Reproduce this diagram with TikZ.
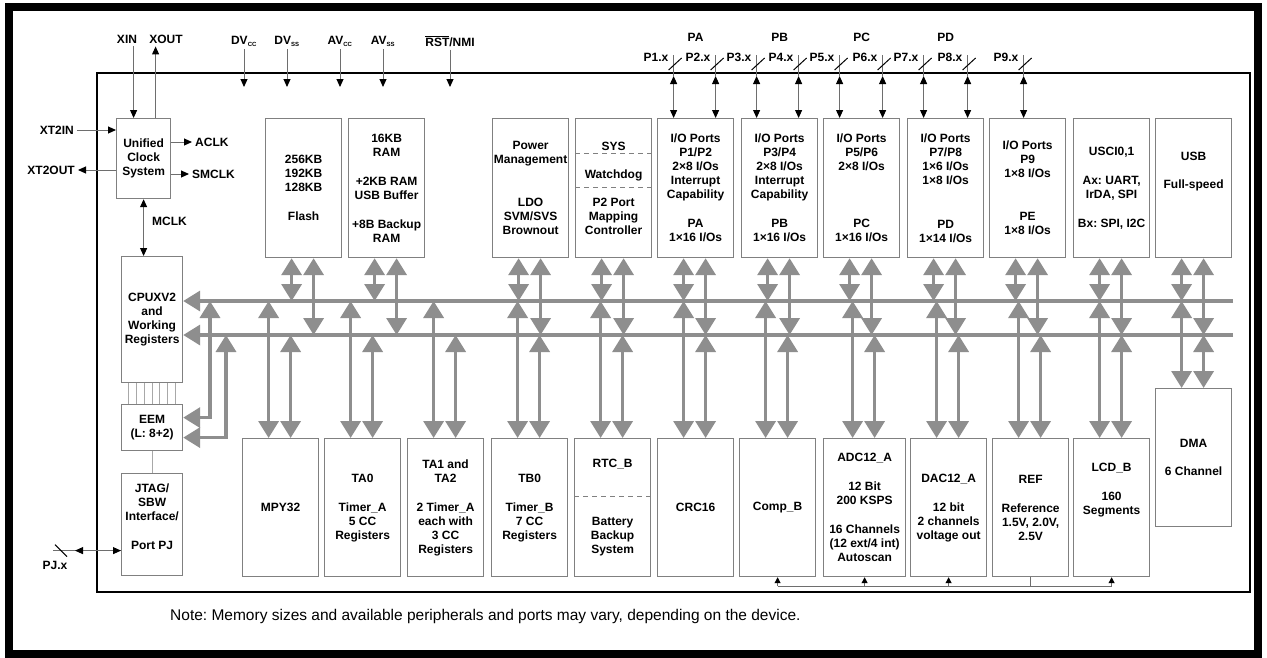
\documentclass[tikz,border=0pt]{standalone}
\usepackage{fontspec}
\setmainfont{Liberation Sans}
\usetikzlibrary{arrows.meta,calc}
\definecolor{BoxGray}{HTML}{808080}
\definecolor{BusGray}{HTML}{8E8E8E}
\definecolor{WireGray}{HTML}{6E6E6E}
\definecolor{TieGray}{HTML}{A8A8A8}
\frenchspacing

% pin of a port: box, offset from its centre, text, name of the text node
\newcommand{\portpin}[4]{%
  \draw[wire] ([xshift=#2]#1.north |- pinstub) -- ([xshift=#2]#1.north |- portin);
  \draw[wire,<->] ([xshift=#2]#1.north |- portin) -- ([xshift=#2]#1.north);
  \draw[wire,draw=black] ([xshift=#2]#1.north |- pinslash) +(-5,6) -- +(8,-6);
  \node[lbl, anchor=east] (#4) at ([xshift={#2-2pt}]#1.north |- pinlabel) {#3};
}

\begin{document}
\begin{tikzpicture}[
  x=1pt, y=-1pt,
  blk/.style={rectangle, draw=BoxGray, line width=1.2pt, fill=white, align=center, inner sep=0pt, minimum width=76pt, minimum height=139pt, anchor=north west, font=\bfseries\fontsize{12}{14}\selectfont},
  lbl/.style={font=\bfseries\fontsize{12}{14}\selectfont, inner sep=3pt},
  bus/.style={draw=BusGray, line width=3.5pt},
  dbl/.style={bus, {Triangle[length=17pt,width=20pt]}-{Triangle[length=17pt,width=20pt]}},
  wire/.style={draw=WireGray, line width=1pt, >={Triangle[length=8pt,width=7pt,color=black]}},
  tie/.style={draw=TieGray, line width=1pt},
  sep/.style={draw=BoxGray, line width=1pt, dash pattern=on 5pt off 4pt}
]
\fill[white] (0,0) rectangle (1267,657);
\useasboundingbox (0,0) rectangle (1267,657);
\draw[line width=7.5pt] (9,7) rectangle (1258,654);
\draw[line width=2.5pt] (97,73) rectangle (1250,592);

\coordinate (pintip) at (0,87);
\coordinate (pinstub) at (0,55);
\coordinate (portin) at (0,76);
\coordinate (pinslash) at (0,64);
\coordinate (pinlabel) at (0,57);
\coordinate (grp) at (0,37);
\coordinate (b1e) at (1233,301);
\coordinate (b2e) at (1233,335);
\coordinate (c1) at (210,301);
\coordinate (c2) at (226,335);

% top row
\node[blk, minimum width=54pt, minimum height=80pt] (clk) at (116,118) {Unified\\Clock\\System};
\node[blk] (flash) at (265,118) {256KB\\192KB\\128KB\\[15pt]Flash};
\node[blk] (ram) at (348,118) {16KB\\RAM\\[15pt]+2KB RAM\\USB Buffer\\[15pt]+8B Backup\\RAM};
\node[blk] (pmm) at (492,118) {Power\\Management\\[29pt]LDO\\SVM/SVS\\Brownout};
\node[blk] (sys) at (575,118) {SYS\\[14pt]Watchdog\\[14pt]P2 Port\\Mapping\\Controller};
\node[blk] (pa) at (657,118) {I/O Ports\\P1/P2\\2×8 I/Os\\Interrupt\\Capability\\[15pt]PA\\1×16 I/Os};
\node[blk] (pb) at (741,118) {I/O Ports\\P3/P4\\2×8 I/Os\\Interrupt\\Capability\\[15pt]PB\\1×16 I/Os};
\node[blk] (pc) at (823,118) {I/O Ports\\P5/P6\\2×8 I/Os\\[43pt]PC\\1×16 I/Os};
\node[blk] (pd) at (907,118) {I/O Ports\\P7/P8\\1×6 I/Os\\1×8 I/Os\\[30pt]PD\\1×14 I/Os};
\node[blk] (pe) at (989,118) {I/O Ports\\P9\\1×8 I/Os\\[29pt]PE\\1×8 I/Os};
\node[blk] (usci) at (1073,118) {USCI0,1\\[15pt]Ax: UART,\\IrDA, SPI\\[15pt]Bx: SPI, I2C};
\node[blk] (usb) at (1155,118) {USB\\[14pt]Full-speed\\[22pt]\mbox{}};
\draw[sep] ([yshift=-35pt]sys.north west) -- ([yshift=-35pt]sys.north east);
\draw[sep] ([yshift=-69pt]sys.north west) -- ([yshift=-69pt]sys.north east);

% left column
\node[blk, minimum width=61pt, minimum height=126pt] (cpu) at (121,256) {CPUXV2\\and\\Working\\Registers};
\node[blk, minimum width=61pt, minimum height=46pt] (eem) at (121,404) {EEM\\(L: 8+2)};
\node[blk, minimum width=61pt, minimum height=102pt] (jtag) at (121,473) {JTAG/\\SBW\\Interface/\\[15pt]Port PJ\\[1pt]\mbox{}};

% bottom row
\node[blk, minimum height=138pt] (mpy) at (242,438) {MPY32};
\node[blk, minimum height=138pt] (ta0) at (324,438) {TA0\\[15pt]Timer\_A\\5 CC\\Registers};
\node[blk, minimum height=138pt] (ta1) at (407,438) {TA1 and\\TA2\\[15pt]2 Timer\_A\\each with\\3 CC\\Registers};
\node[blk, minimum height=138pt] (tb0) at (491,438) {TB0\\[15pt]Timer\_B\\7 CC\\Registers};
\node[blk, minimum height=138pt] (rtc) at (574,438) {RTC\_B\\[44pt]Battery\\Backup\\System};
\node[blk, minimum height=138pt] (crc) at (657,438) {CRC16};
\node[blk, minimum height=138pt] (comp) at (739,438) {Comp\_B};
\node[blk, minimum height=138pt, minimum width=82pt] (adc) at (823,438) {ADC12\_A\\[15pt]12 Bit\\200 KSPS\\[15pt]16 Channels\\(12 ext/4 int)\\Autoscan};
\node[blk, minimum height=138pt] (dac) at (910,438) {DAC12\_A\\[15pt]12 bit\\2 channels\\voltage out};
\node[blk, minimum height=138pt] (ref) at (992,438) {REF\\[15pt]Reference\\1.5V, 2.0V,\\2.5V};
\node[blk, minimum height=138pt] (lcd) at (1073,438) {LCD\_B\\[15pt]160\\Segments\\[24pt]\mbox{}};
\node[blk, minimum height=138pt] (dma) at (1155,388) {DMA\\[14pt]6 Channel};
\draw[sep] ([yshift=-58pt]rtc.north west) -- ([yshift=-58pt]rtc.north east);

% buses
\draw[bus, -{Triangle[length=17pt,width=20pt]}] (b1e) -- (b1e -| cpu.east);
\draw[bus, -{Triangle[length=17pt,width=20pt]}] (b2e) -- (b2e -| cpu.east);
\foreach \b in {flash,ram,pmm,sys,pa,pb,pc,pd,pe,usci,usb}{
  \draw[dbl] ([xshift=-12pt]\b.south) -- ([xshift=-12pt]\b.south |- b1e);
  \draw[dbl] ([xshift=10pt]\b.south) -- ([xshift=10pt]\b.south |- b2e);
}
\foreach \b in {mpy,ta0,ta1,tb0,rtc,crc,comp,adc,dac,ref,lcd,dma}{
  \draw[dbl] ([xshift=-12pt]\b.north |- b1e) -- ([xshift=-12pt]\b.north);
  \draw[dbl] ([xshift=10pt]\b.north |- b2e) -- ([xshift=10pt]\b.north);
}
\draw[dbl] ([yshift=10pt]eem.east) -| (c1);
\draw[dbl] ([yshift=-10pt]eem.east) -| (c2);
\foreach \i in {1,...,7}
  \draw[tie] ($(cpu.south west)!\i/8!(cpu.south east)$) -- ($(eem.north west)!\i/8!(eem.north east)$);
\draw[tie] (eem.south) -- (jtag.north);

% clock signals
\node[lbl] (xin) at (127,39) {XIN};
\node[lbl] (xout) at (166,39) {XOUT};
\draw[wire,->] ([xshift=-10pt]clk.north |- xin.south) -- ([xshift=-10pt]clk.north);
\draw[wire,->] ([xshift=12pt]clk.north) -- ([xshift=12pt]clk.north |- xout.south);
\node[lbl, anchor=east] (xt2in) at (77,130) {XT2IN};
\draw[wire,->] (xt2in.east) -- (xt2in.east -| clk.west);
\node[lbl, anchor=east] (xt2out) at (78,170) {XT2OUT};
\draw[wire,->] (xt2out.east -| clk.west) -- (xt2out.east);
\node[lbl, anchor=west] (aclk) at (192,142) {ACLK};
\draw[wire,->] (aclk.west -| clk.east) -- (aclk.west);
\node[lbl, anchor=west] (smclk) at (189,174) {SMCLK};
\draw[wire,->] (smclk.west -| clk.east) -- (smclk.west);
\draw[wire,<->] (clk.south) -- (clk.south |- cpu.north);
\node[lbl, anchor=west] (mclk) at (149,221) {MCLK};

% supplies and reset
\node[lbl] (dvcc) at (244,41) {DV\textsubscript{\fontsize{6}{6}\selectfont CC}};
\node[lbl] (dvss) at (287,41) {DV\textsubscript{\fontsize{6}{6}\selectfont SS}};
\node[lbl] (avcc) at (340,41) {AV\textsubscript{\fontsize{6}{6}\selectfont CC}};
\node[lbl] (avss) at (383,41) {AV\textsubscript{\fontsize{6}{6}\selectfont SS}};
\node[lbl] (rst) at (450,41) {$\overline{\mbox{RST}}$/NMI};
\foreach \p in {dvcc,dvss,avcc,avss,rst}
  \draw[wire,->] (\p.south) -- (\p.south |- pintip);

% ports
\node[lbl] (grpa) at (pa.north |- grp) {PA};
\node[lbl] (grpb) at (pb.north |- grp) {PB};
\node[lbl] (grpc) at (pc.north |- grp) {PC};
\node[lbl] (grpd) at (pd.north |- grp) {PD};
\portpin{pa}{-22pt}{P1.x}{p1}
\portpin{pa}{20pt}{P2.x}{p2}
\portpin{pb}{-23pt}{P3.x}{p3}
\portpin{pb}{19pt}{P4.x}{p4}
\portpin{pc}{-22pt}{P5.x}{p5}
\portpin{pc}{21pt}{P6.x}{p6}
\portpin{pd}{-22pt}{P7.x}{p7}
\portpin{pd}{22pt}{P8.x}{p8}
\portpin{pe}{-4pt}{P9.x}{p9}

% port PJ
\coordinate (pj) at ([yshift=-26pt]jtag.west);
\draw[wire] (pj) -- ++(-68,0);
\draw[wire,<->] ([xshift=-46pt]pj) -- (pj);
\draw[wire,draw=black] ([xshift=-60pt]pj) +(-6,-6) -- +(6,6);
\node[lbl] (pjx) at ([xshift=-66pt,yshift=-15pt]pj) {PJ.x};

% reference outputs
\coordinate (refbus) at ([yshift=-9pt]ref.south);
\draw[wire] (ref.south) -- (refbus);
\draw[wire] (comp.south |- refbus) -- (lcd.south |- refbus);
\foreach \b in {comp,adc,dac,lcd}
  \draw[wire,->,>={Triangle[length=6pt,width=6pt,color=black]}] (\b.south |- refbus) -- (\b.south);

\node[anchor=west, font=\fontsize{15.5}{18}\selectfont, inner sep=0pt] (note) at (170,616) {Note: Memory sizes and available peripherals and ports may vary, depending on the device.};
\end{tikzpicture}
\end{document}
